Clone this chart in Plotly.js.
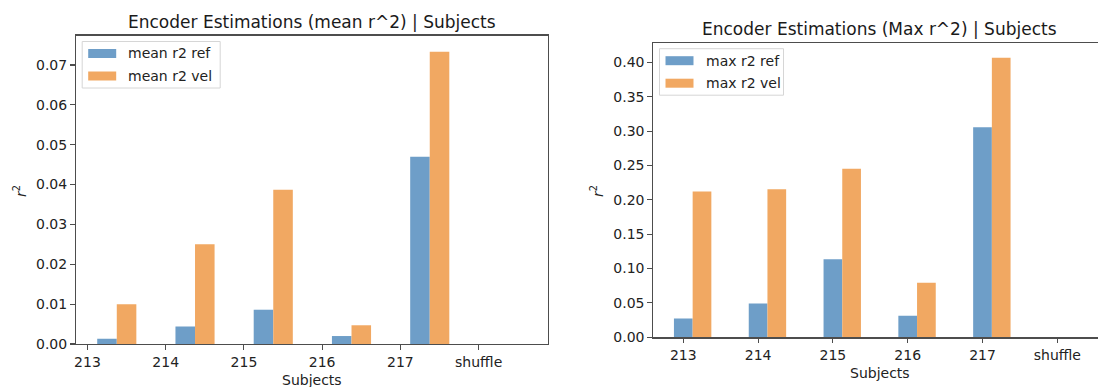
<!DOCTYPE html>
<html>
<head>
<meta charset="utf-8">
<script src="https://cdn.plot.ly/plotly-3.0.1.min.js"></script>
<style>
  html, body { margin: 0; padding: 0; background: #ffffff; }
  #chart { width: 1098px; height: 387px; }
</style>
</head>
<body>
<div id="chart"></div>
<script>
// Subjects on the x axis (last group is the shuffled control)
const subjects = ['213', '214', '215', '216', '217', 'shuffle'];

// Mean r^2 per subject
const meanR2Ref = [0.0013, 0.0044, 0.0086, 0.0020, 0.0470, 0.0];
const meanR2Vel = [0.0100, 0.0250, 0.0387, 0.0047, 0.0733, 0.0];

// Max r^2 per subject
const maxR2Ref = [0.0275, 0.0493, 0.1135, 0.0314, 0.3055, 0.0];
const maxR2Vel = [0.2121, 0.2155, 0.2450, 0.0792, 0.4065, 0.0];

// Series names shown in the legends
const meanNames = ['mean r2 ref', 'mean r2 vel'];
const maxNames = ['max r2 ref', 'max r2 vel'];

const W = 1098, H = 387;
const BLUE = '#6E9EC8';
const ORANGE = '#F1A862';
const FONT = "'DejaVu Sans'";
const TXT = '#222222';
const AXLINE = '#4d4d4d';
const BAR_W = 0.25;
const FS = 14;       // tick, legend and axis-label size
const FS_TITLE = 17; // subplot title size

// pixel -> paper helpers
const px = x => x / W;
const py = y => 1 - y / H;

// axes boxes in pixels
const boxL = {l: 75.7, r: 547.5, t: 35.5, b: 344};
const boxR = {l: 653, r: 1098, t: 42.7, b: 337.3};

const idx = subjects.map((_, i) => i);

function barTrace(values, offset, color, name, xa, ya) {
  return {
    type: 'bar',
    x: idx.map(i => i + offset),
    y: values,
    width: BAR_W,
    name: name,
    marker: {color: color, line: {width: 0}},
    xaxis: xa, yaxis: ya,
    showlegend: false,
    hoverinfo: 'skip'
  };
}

const data = [
  barTrace(meanR2Ref, 0.25, BLUE, meanNames[0], 'x', 'y'),
  barTrace(meanR2Vel, 0.50, ORANGE, meanNames[1], 'x', 'y'),
  barTrace(maxR2Ref, 0.00, BLUE, maxNames[0], 'x2', 'y2'),
  barTrace(maxR2Vel, 0.25, ORANGE, maxNames[1], 'x2', 'y2')
];

function xAxis(box, range, mirror) {
  return {
    domain: [px(box.l), px(box.r)],
    range: range,
    tickmode: 'array',
    tickvals: idx,
    ticktext: subjects,
    showline: true, mirror: mirror,
    linecolor: AXLINE, linewidth: 1.2,
    ticks: 'outside', ticklen: 4.5, tickwidth: 1.1, tickcolor: AXLINE,
    showgrid: false, zeroline: false,
    tickfont: {family: FONT, size: FS, color: TXT},
    fixedrange: true
  };
}

function yAxis(box, range, dtick, anchor, mirror) {
  return {
    domain: [py(box.b), py(box.t)],
    range: range,
    anchor: anchor,
    dtick: dtick, tick0: 0,
    tickformat: '.2f',
    showline: true, mirror: mirror,
    linecolor: AXLINE, linewidth: 1.2,
    ticks: 'outside', ticklen: 4.5, tickwidth: 1.1, tickcolor: AXLINE,
    showgrid: false, zeroline: false,
    tickfont: {family: FONT, size: FS, color: TXT},
    fixedrange: true
  };
}

const xa1 = xAxis(boxL, [-0.15, 5.88], true);
xa1.anchor = 'y';
const xa2 = xAxis(boxR, [-0.405, 5.544], true);
xa2.anchor = 'y2';
const ya1 = yAxis(boxL, [0, 0.0774], 0.01, 'x', true);
const ya2 = yAxis(boxR, [0, 0.4285], 0.05, 'x2', false);

// legend boxes drawn as shapes + text
const shapes = [];
const annotations = [];

function addLegend(box, names, width) {
  const l = box.l + 6.5, t = box.t + 6, b = t + 46.5;
  shapes.push({type: 'rect', xref: 'paper', yref: 'paper',
    x0: px(l), x1: px(l + width), y0: py(b), y1: py(t),
    line: {color: '#d6d6d6', width: 1}, fillcolor: 'rgba(255,255,255,0.85)', layer: 'above'});
  const rows = [t + 12, t + 34.5];
  const cols = [BLUE, ORANGE];
  rows.forEach((cy, k) => {
    shapes.push({type: 'rect', xref: 'paper', yref: 'paper',
      x0: px(l + 6), x1: px(l + 34), y0: py(cy + 4.5), y1: py(cy - 4.5),
      line: {width: 0}, fillcolor: cols[k], layer: 'above'});
    annotations.push({xref: 'paper', yref: 'paper', x: px(l + 44), y: py(cy),
      xanchor: 'left', yanchor: 'middle', showarrow: false, text: names[k],
      font: {family: FONT, size: FS, color: TXT}});
  });
}
addLegend(boxL, meanNames, 138);
addLegend(boxR, maxNames, 124);

// subplot titles
annotations.push({xref: 'paper', yref: 'paper', x: px((boxL.l + boxL.r) / 2), y: py(21.5),
  xanchor: 'center', yanchor: 'middle', showarrow: false,
  text: 'Encoder Estimations (mean r^2) | Subjects',
  font: {family: FONT, size: FS_TITLE, color: '#1a1a1a'}});
annotations.push({xref: 'paper', yref: 'paper', x: px(879.5), y: py(29.5),
  xanchor: 'center', yanchor: 'middle', showarrow: false,
  text: 'Encoder Estimations (Max r^2) | Subjects',
  font: {family: FONT, size: FS_TITLE, color: '#1a1a1a'}});

// axis labels
annotations.push({xref: 'paper', yref: 'paper', x: px((boxL.l + boxL.r) / 2), y: py(380),
  xanchor: 'center', yanchor: 'middle', showarrow: false, text: 'Subjects',
  font: {family: FONT, size: FS, color: TXT}});
annotations.push({xref: 'paper', yref: 'paper', x: px(879.5), y: py(373),
  xanchor: 'center', yanchor: 'middle', showarrow: false, text: 'Subjects',
  font: {family: FONT, size: FS, color: TXT}});
annotations.push({xref: 'paper', yref: 'paper', x: px(20), y: py(191),
  xanchor: 'center', yanchor: 'middle', showarrow: false, textangle: -90,
  text: '<i>r</i><sup>2</sup>', font: {family: FONT, size: FS, color: TXT}});
annotations.push({xref: 'paper', yref: 'paper', x: px(597), y: py(191),
  xanchor: 'center', yanchor: 'middle', showarrow: false, textangle: -90,
  text: '<i>r</i><sup>2</sup>', font: {family: FONT, size: FS, color: TXT}});

const layout = {
  width: W, height: H,
  margin: {l: 0, r: 0, t: 0, b: 0, pad: 0},
  paper_bgcolor: '#ffffff', plot_bgcolor: '#ffffff',
  barmode: 'overlay',
  showlegend: false,
  font: {family: FONT, size: FS, color: TXT},
  xaxis: xa1, yaxis: ya1, xaxis2: xa2, yaxis2: ya2,
  shapes: shapes,
  annotations: annotations
};

Plotly.newPlot('chart', data, layout, {displayModeBar: false, staticPlot: true});
</script>
</body>
</html>
